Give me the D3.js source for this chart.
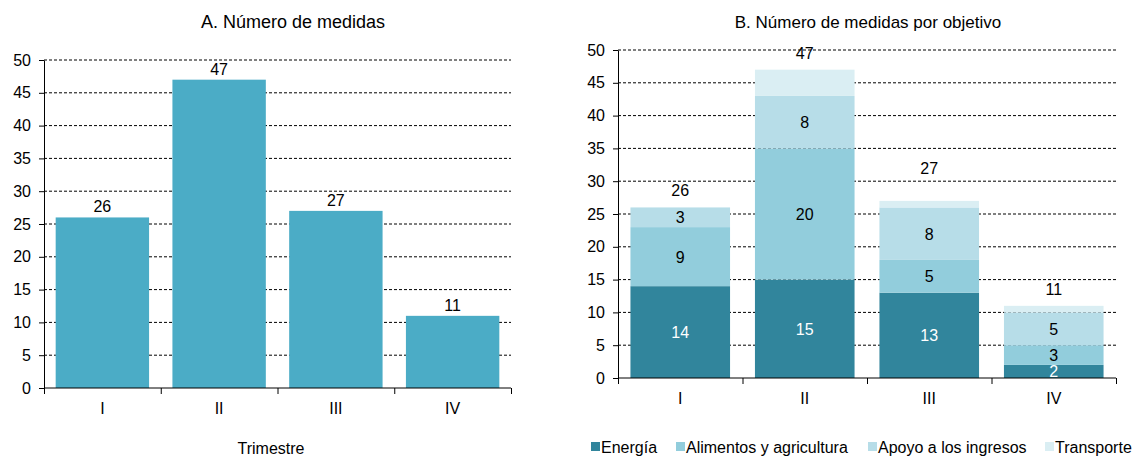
<!DOCTYPE html>
<html>
<head>
<meta charset="utf-8">
<script src="https://cdn.jsdelivr.net/npm/d3@7"></script>
<style>
    body { margin: 0; background: #fff; }
    svg { font-family: "Liberation Sans", Arial, sans-serif; }
    .grid line { stroke: #000; stroke-dasharray: 3,2; stroke-width: 1; }
    .axis path, .axis line { stroke: #000; }
    .axis text { font-size: 16px; fill: #000; font-family: "Liberation Sans", Arial, sans-serif; }
</style>
</head>
<body>
<svg id="vis" width="1134" height="457"></svg>
<script>
// data
const quarters = ["I", "II", "III", "IV"];
const totals = [26, 47, 27, 11];

const objectives = ["Energía", "Alimentos y agricultura", "Apoyo a los ingresos", "Transporte"];
const energia = [14, 15, 13, 2];
const alimentos = [9, 20, 5, 3];
const apoyo = [3, 8, 8, 5];
const transporte = [0, 4, 1, 1];

const yTicks = [0, 5, 10, 15, 20, 25, 30, 35, 40, 45, 50];

const objColors = ["#31859c", "#92cddc", "#b7dde8", "#daeef3"];
const barColor = "#4bacc6";

const svg = d3.select("svg#vis");

// scales + dashed grid
function frame(g, x0, x1, y0, y1) {
    let x = d3.scaleBand()
        .domain(quarters)
        .range([x0, x1])
        .paddingInner(0.2)
        .paddingOuter(0.1);
    let y = d3.scaleLinear().domain([0, 50]).range([y0, y1]);

    g.append("g").attr("class", "grid")
        .selectAll("line")
        .data(yTicks.filter(d => d > 0))
        .enter().append("line")
        .attr("x1", x0).attr("x2", x1)
        .attr("y1", d => y(d)).attr("y2", d => y(d));

    return {x, y};
}

function axes(g, s, x0, x1, y0) {
    let xa = d3.scaleLinear().domain([0, 4]).range([x0, x1]);
    let xAxis = g.append("g").attr("class", "axis")
        .attr("transform", "translate(0," + y0 + ")")
        .call(d3.axisBottom(xa).tickValues([0, 1, 2, 3, 4]).tickSize(6).tickFormat(""));
    xAxis.select(".domain").attr("d", "M" + x0 + ",0H" + x1);

    g.append("g").attr("class", "axis")
        .attr("transform", "translate(0," + y0 + ")")
        .selectAll("text")
        .data(quarters)
        .enter().append("text")
        .attr("x", d => s.x(d) + s.x.bandwidth() / 2)
        .attr("y", 26)
        .attr("text-anchor", "middle")
        .text(d => d);

    g.append("g").attr("class", "axis")
        .attr("transform", "translate(" + x0 + ",0)")
        .call(d3.axisLeft(s.y).tickValues(yTicks).tickSize(5).tickSizeOuter(0).tickPadding(8));
}

// ---------- A ----------
let gA = svg.append("g");
let A = frame(gA, 44, 511, 388, 60);

gA.selectAll("rect.bar")
    .data(totals)
    .enter().append("rect")
    .attr("class", "bar")
    .attr("x", (d, i) => A.x(quarters[i]))
    .attr("width", A.x.bandwidth())
    .attr("y", d => A.y(d))
    .attr("height", d => A.y(0) - A.y(d))
    .attr("fill", barColor);

gA.selectAll("text.val")
    .data(totals)
    .enter().append("text")
    .attr("class", "val")
    .attr("x", (d, i) => A.x(quarters[i]) + A.x.bandwidth() / 2)
    .attr("y", d => A.y(d) - 5)
    .attr("text-anchor", "middle")
    .style("font-size", "16px")
    .text(d => d);

axes(gA, A, 44, 511, 388);

gA.append("text")
    .attr("x", 293).attr("y", 28)
    .attr("text-anchor", "middle")
    .style("font-size", "18px")
    .text("A. Número de medidas");

gA.append("text")
    .attr("x", 271).attr("y", 454)
    .attr("text-anchor", "middle")
    .style("font-size", "16px")
    .text("Trimestre");

// ---------- B ----------
let gB = svg.append("g");
let B = frame(gB, 618, 1116, 378, 50);

let series = [energia, alimentos, apoyo, transporte];
let rows = quarters.map((q, i) => {
    let r = {q: q};
    objectives.forEach((o, k) => r[o] = series[k][i]);
    return r;
});
let stacked = d3.stack().keys(objectives)(rows);

let layers = gB.selectAll("g.layer")
    .data(stacked)
    .enter().append("g")
    .attr("class", "layer")
    .attr("fill", (d, i) => objColors[i]);

layers.selectAll("rect")
    .data(d => d)
    .enter().append("rect")
    .attr("x", d => B.x(d.data.q))
    .attr("width", B.x.bandwidth())
    .attr("y", d => B.y(d[1]))
    .attr("height", d => B.y(d[0]) - B.y(d[1]));

// segment labels (transporte has none)
stacked.slice(0, 3).forEach((layer, k) => {
    gB.selectAll("text.seg" + k)
        .data(layer)
        .enter().append("text")
        .attr("x", d => B.x(d.data.q) + B.x.bandwidth() / 2)
        .attr("y", d => (B.y(d[0]) + B.y(d[1])) / 2 + 6)
        .attr("text-anchor", "middle")
        .style("font-size", "16px")
        .attr("fill", k == 0 ? "#fff" : "#000")
        .text(d => d[1] - d[0]);
});

const totalNudge = [0, 0, 16, 0];
gB.selectAll("text.tot")
    .data(totals)
    .enter().append("text")
    .attr("x", (d, i) => B.x(quarters[i]) + B.x.bandwidth() / 2)
    .attr("y", (d, i) => B.y(d) - 11 - totalNudge[i])
    .attr("text-anchor", "middle")
    .style("font-size", "16px")
    .text(d => d);

axes(gB, B, 618, 1116, 378);

gB.append("text")
    .attr("x", 868).attr("y", 28)
    .attr("text-anchor", "middle")
    .style("font-size", "17px")
    .text("B. Número de medidas por objetivo");

// legend
let legX = [591, 676, 868, 1045];
let leg = gB.selectAll("g.leg")
    .data(objectives)
    .enter().append("g")
    .attr("transform", (d, i) => "translate(" + legX[i] + ",442)");
leg.append("rect")
    .attr("width", 9).attr("height", 9)
    .attr("fill", (d, i) => objColors[i]);
leg.append("text")
    .attr("x", 10).attr("y", 11)
    .style("font-size", "16px")
    .text(d => d);
</script>
</body>
</html>
